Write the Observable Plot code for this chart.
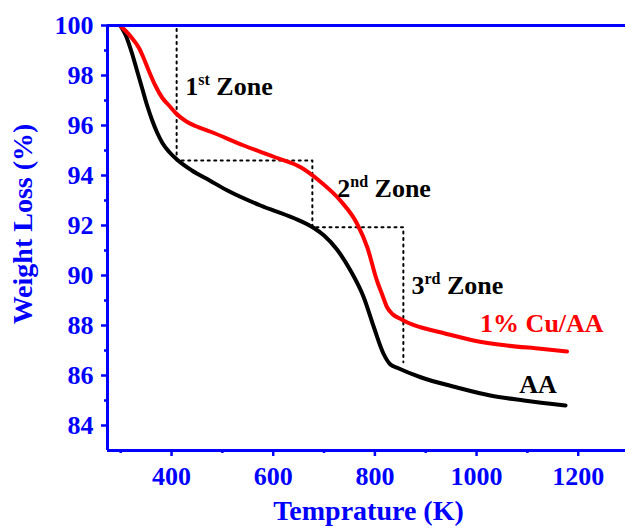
<!DOCTYPE html>
<html><head><meta charset="utf-8">
<script src="https://cdn.jsdelivr.net/npm/d3@7"></script>
<script src="https://cdn.jsdelivr.net/npm/@observablehq/plot@0.6"></script>
<style>body{margin:0;background:#fff}</style>
</head><body><div id="chart"></div>
<script>
// AA series
const aaTemp   = [300, 310, 322, 332, 342, 352, 362, 372, 382, 395, 410, 440, 475, 510, 575, 640, 680, 700, 725, 752, 778, 798, 817, 830, 845, 890, 960, 1027, 1093, 1175];
const aaWeight = [99.97, 99.6, 98.9, 98.2, 97.5, 96.8, 96.2, 95.7, 95.3, 94.95, 94.65, 94.2, 93.8, 93.4, 92.8, 92.3, 91.9, 91.6, 91.05, 90.2, 89.13, 87.93, 86.87, 86.45, 86.3, 85.93, 85.53, 85.2, 85.0, 84.8];
// 1% Cu/AA series
const cuTemp   = [300, 309, 322, 336, 345, 355, 368, 382, 395, 408, 430, 447, 477, 542, 608, 654, 690, 732, 765, 785, 804, 815, 824, 835, 850, 863, 890, 929, 994, 1060, 1126, 1178];
const cuWeight = [99.97, 99.8, 99.5, 99.1, 98.7, 98.2, 97.6, 97.1, 96.8, 96.5, 96.15, 95.98, 95.75, 95.2, 94.7, 94.33, 93.8, 93.0, 92.07, 91.13, 89.8, 89.2, 88.73, 88.45, 88.27, 88.13, 87.93, 87.73, 87.4, 87.2, 87.07, 86.96];
// dotted zone boundaries
const zoneTemp   = [302, 410, 410, 677, 677, 856, 856];
const zoneWeight = [100, 100, 94.6, 94.6, 91.93, 91.93, 86.53];
// ticks
const xTicks = [400, 600, 800, 1000, 1200];
const xMinorTicks = [300, 500, 700, 900, 1100];
const yTicks = [84, 86, 88, 90, 92, 94, 96, 98, 100];
const yMinorTicks = [85, 87, 89, 91, 93, 95, 97, 99];
const xDomain = [274, 1293];
const yDomain = [83, 100];
const xTitle = "Temprature (K)";
const yTitle = "Weight Loss (%)";
// annotations
const annText  = ["1st Zone", "2nd Zone", "3rd Zone", "1% Cu/AA", "AA"];
const annTemp  = [427, 726, 872, 1007, 1084];
const annWeight= [97.57, 93.49, 89.6, 88.06, 85.62];
const annColor = ["black", "black", "black", "red", "black"];

const aa = aaTemp.map((t, i) => ({t, w: aaWeight[i]}));
const cu = cuTemp.map((t, i) => ({t, w: cuWeight[i]}));
const zones = zoneTemp.map((t, i) => ({t, w: zoneWeight[i]}));
const ann = annText.map((s, i) => ({s, t: annTemp[i], w: annWeight[i], c: annColor[i]}));
const BLUE = "#0000ff";

const chart = Plot.plot({
  width: 625, height: 532,
  marginLeft: 107, marginRight: 0, marginTop: 25, marginBottom: 82,
  style: {fontFamily: "'Liberation Serif', 'Times New Roman', serif", fontWeight: "bold", background: "#fff"},
  x: {domain: xDomain},
  y: {domain: yDomain},
  marks: [
    Plot.line(zones, {x: "t", y: "w", stroke: "black", strokeWidth: 2, strokeDasharray: "2,4.5"}),
    Plot.line(aa, {x: "t", y: "w", stroke: "black", strokeWidth: 4, curve: "monotone-x"}),
    Plot.line(cu, {x: "t", y: "w", stroke: "#ff0000", strokeWidth: 4, curve: "monotone-x"}),
    Plot.ruleY([yDomain[0]], {stroke: BLUE, strokeWidth: 3}),
    Plot.ruleY([yDomain[1]], {stroke: BLUE, strokeWidth: 3}),
    Plot.ruleX([xDomain[0]], {stroke: BLUE, strokeWidth: 3}),
    Plot.axisX({ticks: xTicks, tickSize: 6, tickPadding: 10, tickFormat: d3.format("d"), color: BLUE, strokeWidth: 2.5, fontSize: 26, fontWeight: "bold", label: null}),
    Plot.axisX({ticks: xMinorTicks, tickSize: 3, tickFormat: () => "", color: BLUE, strokeWidth: 2.5, label: null}),
    Plot.axisY({ticks: yTicks, tickSize: 6, tickPadding: 8, tickFormat: d3.format("d"), color: BLUE, strokeWidth: 2.5, fontSize: 26, fontWeight: "bold", label: null}),
    Plot.axisY({ticks: yMinorTicks, tickSize: 3, tickFormat: () => "", color: BLUE, strokeWidth: 2.5, label: null}),
    Plot.text([xTitle], {frameAnchor: "bottom", textAnchor: "middle", dx: 2, dy: 69, fill: BLUE, fontSize: 28, fontWeight: "bold"}),
    Plot.text([yTitle], {frameAnchor: "left", textAnchor: "middle", rotate: -90, dx: -84, dy: -14, fill: BLUE, fontSize: 28, fontWeight: "bold"}),
    Plot.text(ann, {x: "t", y: "w", text: "s", fill: "c", textAnchor: "start", fontSize: 26, fontWeight: "bold", className: "ann"})
  ]
});

// superscripts for ordinal zone labels
d3.select(chart).selectAll(".ann text").each(function() {
  const m = this.textContent.match(/^(\d)(st|nd|rd) (.*)$/);
  if (!m) return;
  const el = d3.select(this);
  el.text("");
  el.append("tspan").text(m[1]);
  el.append("tspan").attr("font-size", 16).attr("dy", -10).text(m[2]);
  el.append("tspan").attr("dy", 10).text(" " + m[3]);
});

document.getElementById("chart").append(chart);
</script>
</body></html>
